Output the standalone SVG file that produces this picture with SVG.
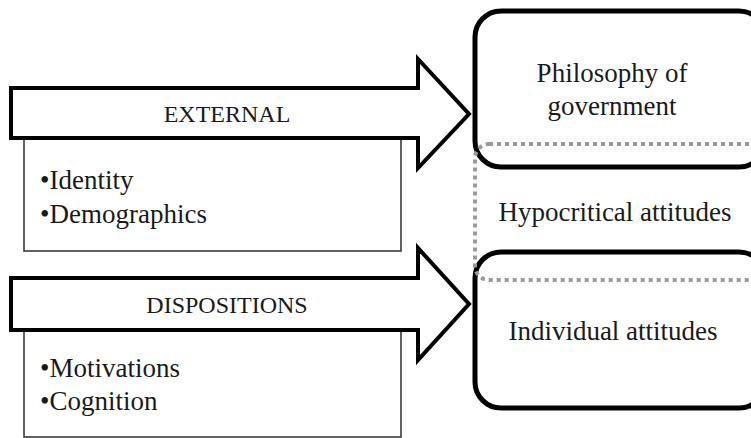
<svg xmlns="http://www.w3.org/2000/svg" width="751" height="438" viewBox="0 0 751 438">
  <style>
    text { font-family: "Liberation Serif", "DejaVu Serif", serif; fill: #1a1a1a; }
    .cap { font-size: 24px; text-anchor: middle; }
    .item { font-size: 27px; }
    .node-text { font-size: 27px; text-anchor: middle; }
    .list-box { fill: #ffffff; stroke: #3a3a3a; stroke-width: 1.6; }
    .big-arrow { fill: #ffffff; stroke: #000000; stroke-width: 4; stroke-linejoin: miter; }
    .outcome { fill: #ffffff; stroke: #000000; stroke-width: 5; }
    .overlap { fill: none; stroke: #9a9a9a; stroke-width: 4; stroke-dasharray: 4 4; }
  </style>
  <rect width="751" height="438" fill="#ffffff"/>

  <!-- Outcome boxes on the right -->
  <g id="node-philosophy">
    <rect class="outcome" x="475" y="11" width="290" height="156" rx="26" ry="26"/>
    <text class="node-text" x="612" y="82">Philosophy of</text>
    <text class="node-text" x="612" y="115">government</text>
  </g>
  <g id="node-individual">
    <rect class="outcome" x="475" y="252" width="290" height="156" rx="26" ry="26"/>
    <text class="node-text" x="613" y="340">Individual attitudes</text>
  </g>

  <!-- Overlap region between the two outcome boxes -->
  <g id="node-hypocritical">
    <rect class="overlap" x="475" y="144" width="290" height="136" rx="14" ry="14"/>
    <text class="node-text" x="615" y="221">Hypocritical attitudes</text>
  </g>

  <!-- Input factors with their block arrows -->
  <g id="connectors">
    <g id="node-external">
      <rect class="list-box" x="24" y="138" width="377" height="113"/>
      <path class="big-arrow" d="M11,88 H418 V59 L469,114 L418,168 V138 H11 Z"/>
      <text class="cap" x="227" y="122">EXTERNAL</text>
      <text class="item" x="40" y="189">•Identity</text>
      <text class="item" x="40" y="223">•Demographics</text>
    </g>
    <g id="node-dispositions">
      <rect class="list-box" x="24" y="330" width="377" height="107"/>
      <path class="big-arrow" d="M11,278 H418 V248 L469,304 L418,360 V330 H11 Z"/>
      <text class="cap" x="227" y="313">DISPOSITIONS</text>
      <text class="item" x="40" y="377">•Motivations</text>
      <text class="item" x="40" y="410">•Cognition</text>
    </g>
  </g>
</svg>
